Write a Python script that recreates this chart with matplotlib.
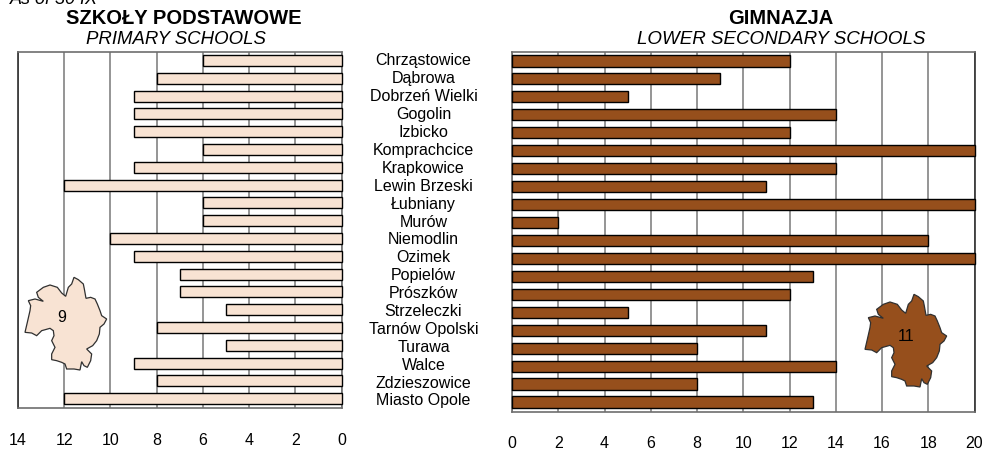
import matplotlib
matplotlib.use("Agg")
import matplotlib.pyplot as plt
from matplotlib.patches import Polygon

plt.rcParams['font.family'] = ['Liberation Sans', 'DejaVu Sans']

W, H = 985, 452
gminy = ["Chrząstowice", "Dąbrowa", "Dobrzeń Wielki", "Gogolin", "Izbicko", "Komprachcice",
         "Krapkowice", "Lewin Brzeski", "Łubniany", "Murów", "Niemodlin", "Ozimek", "Popielów",
         "Prószków", "Strzeleczki", "Tarnów Opolski", "Turawa", "Walce", "Zdzieszowice", "Miasto Opole"]
primary = [6, 8, 9, 9, 9, 6, 9, 12, 6, 6, 10, 9, 7, 7, 5, 8, 5, 9, 8, 12]
lower_secondary = [12, 9, 5, 14, 12, 20, 14, 11, 20, 2, 18, 20, 13, 12, 5, 11, 8, 14, 8, 13]
primary_ticks = [14, 12, 10, 8, 6, 4, 2, 0]
lower_ticks = [0, 2, 4, 6, 8, 10, 12, 14, 16, 18, 20]
light = "#F8E3D3"
brown = "#964F1C"
# Outline of the powiat, in thirds of a pixel
outline = [(222, 25), (235, 32), (250, 45), (253, 60), (258, 88), (272, 85), (285, 90), (292, 105),
           (300, 125), (305, 140), (320, 150), (312, 165), (300, 175), (298, 195), (290, 215),
           (278, 230), (260, 240), (275, 255), (272, 275), (262, 295), (252, 290), (245, 278),
           (240, 303), (222, 300), (200, 300), (195, 285), (185, 280), (170, 275), (155, 272),
           (155, 255), (165, 235), (155, 215), (162, 200), (160, 185), (150, 178), (125, 185),
           (110, 200), (95, 192), (75, 190), (82, 160), (90, 125), (92, 110), (85, 95), (105, 90),
           (130, 97), (115, 85), (110, 70), (130, 55), (150, 48), (172, 55), (185, 72), (197, 82),
           (205, 55), (215, 45)]


def axes_px(x0, y0, x1, y1):
    return fig.add_axes([x0 / W, 1 - y1 / H, (x1 - x0) / W, (y1 - y0) / H])


def panel(ax, values, ticks, color, ylim):
    ax.barh(range(len(values)), values, height=0.62, color=color, edgecolor="black",
            linewidth=1.0, zorder=3, clip_on=False)
    ax.set_ylim(*ylim)
    ax.set_xticks(ticks)
    ax.set_yticks([])
    ax.grid(axis="x", color="#8C8C8C", linewidth=1.3, zorder=0)
    ax.tick_params(axis="x", length=0, labelbottom=False)
    for s in ax.spines.values():
        s.set_color("#6E6E6E")
        s.set_linewidth(1.2)
    ax.set_axisbelow(True)


fig = plt.figure(figsize=(W / 100, H / 100), dpi=100)

ax1 = axes_px(18, 53, 341.5, 408.5)
ax1.set_xlim(14, 0)
panel(ax1, primary, primary_ticks, light, (19.49, -0.48))
ax1.spines["left"].set_color("#303030")

ax2 = axes_px(512, 53, 974.5, 412.5)
ax2.set_xlim(0, 20)
panel(ax2, lower_secondary, lower_ticks, brown, (19.53, -0.5))
ax2.spines["right"].set_color("#303030")

tr = fig.transFigure


def px(x, y):
    return x / W, 1 - y / H


def label(x, y, s, **kw):
    fig.text(*px(x, y), s, ha="center", va="center", transform=tr, **kw)


for t in primary_ticks:
    label(ax1.transData.transform((t, 0))[0], 441, str(t), fontsize=11.5)
for t in lower_ticks:
    label(ax2.transData.transform((t, 0))[0], 444, str(t), fontsize=11.5)

for i, g in enumerate(gminy):
    label(423.5, 61 + i * (401 - 61) / 19, g, fontsize=11.5)

fig.text(*px(10, 4), "As of 30 IX", ha="left", va="baseline", style="italic", fontsize=13)
label(184, 19, "SZKOŁY PODSTAWOWE", fontsize=14.5, fontweight="bold")
label(176, 40, "PRIMARY SCHOOLS", fontsize=13.4, style="italic")
label(781, 19, "GIMNAZJA", fontsize=14.5, fontweight="bold")
label(781, 40, "LOWER SECONDARY SCHOOLS", fontsize=13.5, style="italic")


def inset(dx, dy, color, value, vx, vy):
    pts = [px(x / 3 + dx, y / 3 + dy) for x, y in outline]
    fig.add_artist(Polygon(pts, closed=True, transform=tr, facecolor=color,
                           edgecolor="#303030", linewidth=0.9, zorder=5))
    fig.text(*px(vx, vy), value, ha="center", va="center", fontsize=11.5, zorder=6)


inset(0, 270, light, "9", 62, 318)
inset(840, 287, brown, "11", 906, 337)

fig.savefig("out.png", dpi=100)
